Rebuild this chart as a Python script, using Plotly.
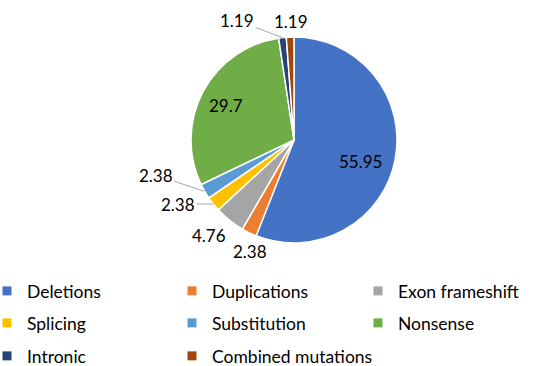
import math
import plotly.graph_objects as go

# Mutation categories and their share (%)
categories = ["Deletions", "Duplications", "Exon frameshift", "Splicing",
              "Substitution", "Nonsense", "Intronic", "Combined mutations"]
values = [55.95, 2.38, 4.76, 2.38, 2.38, 29.7, 1.19, 1.19]
colors = ["#4472C4", "#ED7D31", "#A5A5A5", "#FFC000",
          "#5B9BD5", "#70AD47", "#264478", "#9E480E"]

W, H = 548, 366
FONT = "Lato"
LABEL_SIZE = 17
LEGEND_SIZE = 17.5

# pie placement in pixels
cx, cy, r = 294, 140, 103

# pixel offset of each value label's centre from its slice's outer-edge midpoint,
# and whether a leader line is drawn to it
label_offset = [(-35, 2, False), (1, 19, False), (-21, 15, False), (-35, 0, True),
                (-49, -16, True), (23, 14, False), (-45, -17, True), (1, -16, False)]

fig = go.Figure()
fig.add_trace(go.Pie(
    labels=categories,
    values=values,
    sort=False,
    direction="clockwise",
    rotation=0,
    marker=dict(colors=colors, line=dict(color="white", width=1.5)),
    textinfo="none",
    domain=dict(x=[(cx - r) / W, (cx + r) / W], y=[1 - (cy + r) / H, 1 - (cy - r) / H]),
    showlegend=False,
    hoverinfo="label+value",
))

# value labels anchored at each slice's outer edge midpoint
total = sum(values)
cum = 0.0
annotations = []
for i, v in enumerate(values):
    mid = (cum + v / 2) / total
    cum += v
    th = 2 * math.pi * mid
    ex = cx + r * math.sin(th)
    ey = cy - r * math.cos(th)
    dx, dy, line = label_offset[i]
    ann = dict(xref="paper", yref="paper", x=ex / W, y=1 - ey / H,
               xanchor="center", yanchor="middle",
               text=f"{v:g}", font=dict(family=FONT, size=LABEL_SIZE, color="black"))
    if line:
        ann.update(showarrow=True, ax=dx, ay=dy, arrowhead=0, arrowwidth=1,
                   arrowcolor="#A6A6A6", standoff=0)
    else:
        ann.update(showarrow=False, xshift=dx, yshift=-dy)
    annotations.append(ann)

# legend grid: 3 columns x 3 rows, one small legend per entry
col_x = [-13, 172, 358]
row_y = [291, 323, 356]
legends = {}
for i, (name, col) in enumerate(zip(categories, colors)):
    lid = "legend" if i == 0 else f"legend{i + 1}"
    fig.add_trace(go.Scatter(
        x=[None], y=[None], mode="markers", name=name,
        marker=dict(symbol="square", size=9, color=col),
        legend=lid, showlegend=True, hoverinfo="skip",
    ))
    legends[lid] = dict(
        x=col_x[i % 3] / W, xanchor="left",
        y=1 - row_y[i // 3] / H, yanchor="middle",
        font=dict(family=FONT, size=LEGEND_SIZE, color="black"),
        itemclick=False, itemdoubleclick=False, bgcolor="rgba(0,0,0,0)",
    )

fig.update_layout(
    width=W, height=H,
    margin=dict(l=0, r=0, t=0, b=0, autoexpand=False),
    paper_bgcolor="white",
    plot_bgcolor="white",
    xaxis=dict(visible=False),
    yaxis=dict(visible=False),
    annotations=annotations,
    **legends,
)

fig.write_html("out.html")
